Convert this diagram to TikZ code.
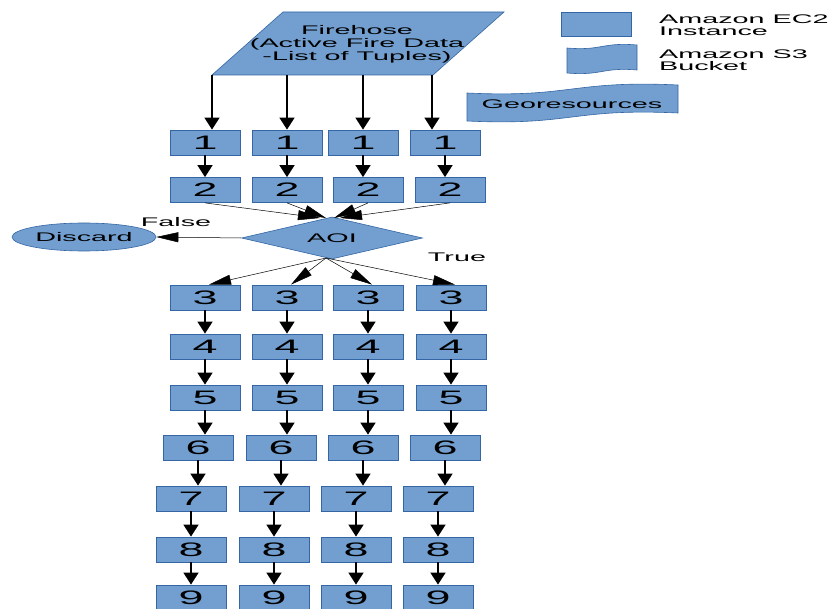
\documentclass[tikz,border=0pt]{standalone}
\usepackage{fontspec}
\setmainfont{Liberation Sans}[FakeStretch=2.3]
\usetikzlibrary{arrows.meta,shapes.geometric}
\definecolor{boxfill}{HTML}{729FCF}
\definecolor{boxline}{HTML}{3465A4}
\begin{document}
\begin{tikzpicture}[x=1pt,y=-1pt,
  ec2/.style={draw=boxline,line width=0.8pt,fill=boxfill,minimum width=70pt,
    minimum height=25pt,inner sep=0pt,font=\fontsize{19.5}{20}\selectfont},
  lbl/.style={font=\fontsize{12.5}{11}\selectfont,inner sep=0pt,align=center},
  flow/.style={line width=1.5pt,-{Triangle[width=15pt,length=12pt]}},
  fan/.style={line width=0.5pt,-{Triangle[width=10pt,length=22pt]}}
]
\useasboundingbox (0,0) rectangle (836,609);

% input stream
\path[fill=boxfill,draw=boxline,line width=0.6pt]
  (212,75) -- (433,75) -- (504,12) -- (283,12) -- cycle;
\node[lbl,font=\fontsize{12.5}{12.8}\selectfont] (firehose) at (357,44)
  {Firehose\\(Active Fire Data\\-List of Tuples)};

% legend
\node[ec2,minimum height=24pt] (legec2) at (596,24) {};
\node[lbl,anchor=west,align=left,font=\fontsize{12.5}{11.5}\selectfont] (legec2txt) at (659,25) {Amazon EC2\\Instance};
\path[fill=boxfill,draw=boxline,line width=0.6pt]
  (567,48) .. controls (602,51) and (602,42) .. (637,45) -- (637,70)
  .. controls (602,67) and (602,76) .. (567,73) -- cycle;
\node[lbl,anchor=west,align=left,font=\fontsize{12.5}{11.5}\selectfont] (legs3txt) at (659,60) {Amazon S3\\Bucket};

% georesources bucket
\path[fill=boxfill,draw=boxline,line width=0.6pt]
  (467,93) .. controls (572,98) and (572,80) .. (678,85) -- (678,113)
  .. controls (572,108) and (572,126) .. (467,121) -- cycle;
\node[lbl] (geo) at (572,104) {Georesources};

% processing stages
\foreach \r/\y/\xa/\xb/\xc/\xd in {
    1/142.5/205/287/363/445,
    2/190/205/287/368/450,
    3/297.5/205/287/368/451,
    4/346.5/205/287/368/451,
    5/397.5/205/287/368/451,
    6/447.5/198/281/363/445,
    7/498.5/191/274/356/438,
    8/549.5/191/274/356/438,
    9/597.5/191/274/356/438}{
  \foreach \c/\x in {1/\xa,2/\xb,3/\xc,4/\xd}
    \node[ec2] (r\r-\c) at (\x,\y) {\r};
}

% firehose feeds
\foreach \c/\x in {1/212,2/287,3/363,4/432}{
  \coordinate (fh\c) at (\x,75);
  \draw[flow] (fh\c) -- (fh\c |- r1-\c.north);
}

% stage to stage
\foreach \r [evaluate=\r as \n using int(\r+1)] in {1,3,4,5,6,7,8}
  \foreach \c in {1,...,4}
    \draw[flow] (r\r-\c.south) -- (r\r-\c.south |- r\n-\c.north);

% area of interest test
\node[diamond,fill=boxfill,draw=boxline,line width=0.6pt,aspect=4.3,
  minimum width=181pt,minimum height=42pt,inner sep=0pt,
  font=\fontsize{12.5}{12}\selectfont] (aoi) at (332,238) {AOI};
\node[ellipse,fill=boxfill,draw=boxline,line width=0.6pt,minimum width=144pt,
  minimum height=28pt,inner sep=0pt,font=\fontsize{12.5}{12}\selectfont] (discard) at (84,237) {Discard};

\foreach \c/\x in {1/320,2/326,3/334,4/340}{
  \coordinate (in\c) at (\x,218);
  \draw[fan] (r2-\c.south) -- (in\c);
}
\coordinate (out) at (326,258);
\foreach \c in {1,...,4}
  \draw[fan] (out) -- ([xshift=4pt]r3-\c.north);

\draw[fan] (aoi.west) -- (discard.east);
\node[lbl] (false) at (176,222) {False};
\node[lbl] (true) at (457,257) {True};
\end{tikzpicture}
\end{document}
